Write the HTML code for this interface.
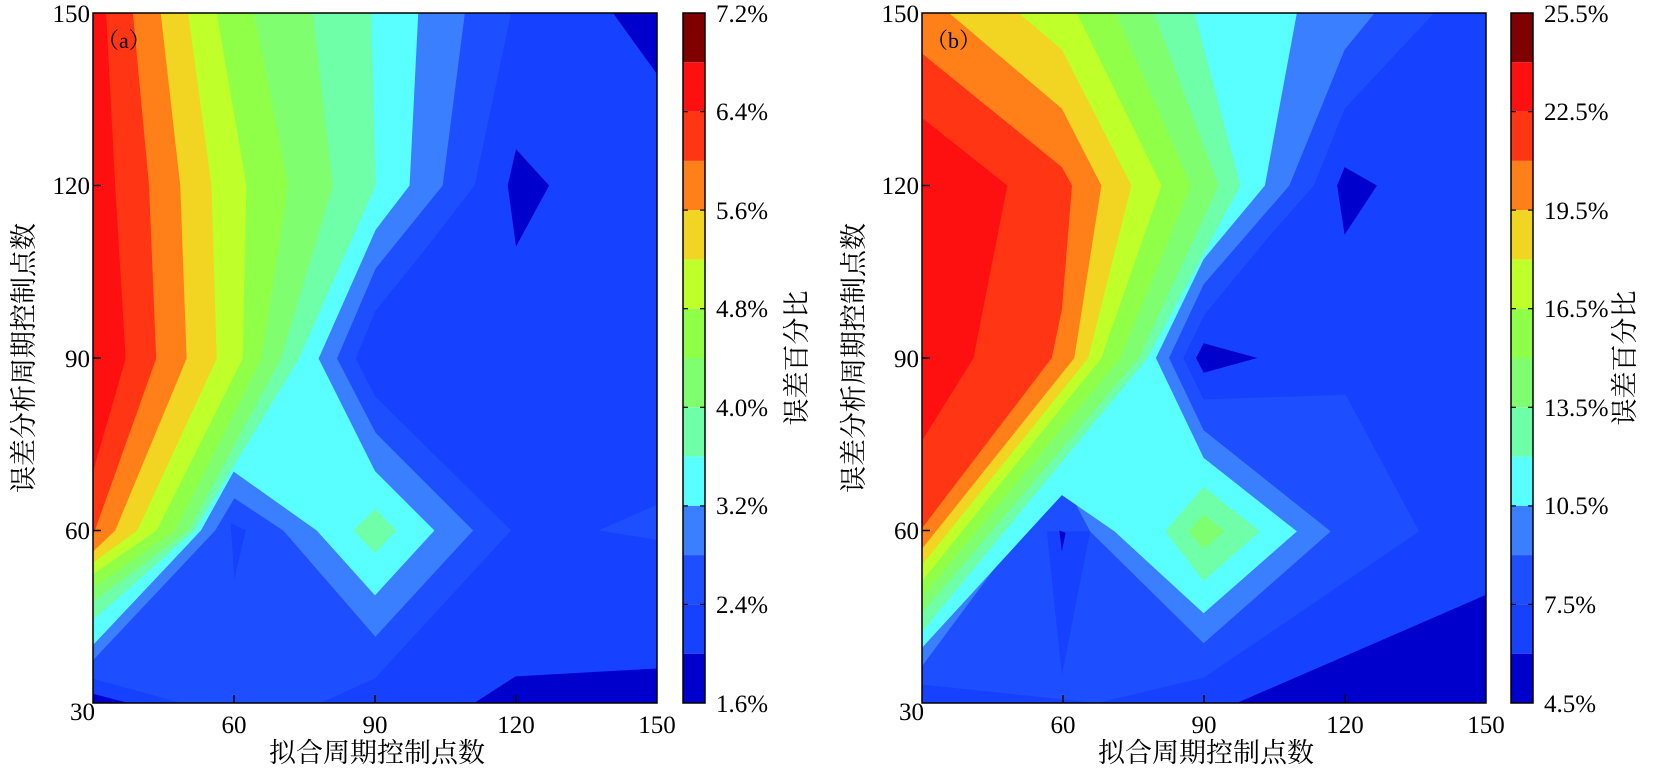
<!DOCTYPE html>
<html><head><meta charset="utf-8"><style>
html,body{margin:0;padding:0;background:#fff;}
svg{display:block;}
text{font-family:"Liberation Serif","Noto Serif CJK SC",serif;fill:#000;}
</style></head><body>
<svg width="1654" height="769" viewBox="0 0 1654 769" xmlns="http://www.w3.org/2000/svg">
<defs>
<clipPath id="cp"><rect x="0" y="0" width="1500" height="1500"/></clipPath>
</defs>
<!-- Panel A -->
<g transform="translate(93,13) scale(0.376,0.46)" clip-path="url(#cp)">
<rect x="0" y="0" width="1500" height="1500" fill="#1641ff"/>
<polygon fill="#1d4eff" points="0,0 1112,0 1015,375 889,508 750,649 699,751 750,833 1112,1125 749,1447 604,1500 234,1500 0,1447"/>
<polygon fill="#1d4eff" points="1344,1125 1500,1069 1500,1145"/>
<polygon fill="#0000cd" points="1383,0 1500,0 1500,133"/>
<polygon fill="#0000cd" points="1125,296 1213,375 1125,508 1103,375"/>
<polygon fill="#0000cd" points="1014,1500 1124,1442 1500,1425 1500,1500"/>
<polygon fill="#0000cd" points="0,1480 94,1500 0,1500"/>
<polygon fill="#3a7fff" points="0,0 989,0 930,375 752,555 649,751 752,913 1011,1125 751,1356 506,1125 376,1055 325,1125 0,1407"/>
<polygon fill="#1641ff" points="366,1109 406,1125 376,1231"/>
<polygon fill="#59ffff" points="0,0 865,0 842,375 752,471 600,751 750,996 908,1125 750,1266 595,1125 374,997 287,1125 0,1374"/>
<polygon fill="#6fffa8" points="693,1125 750,1078 807,1125 750,1174"/>
<polygon fill="#6fffa8" points="0,0 740,0 752,375 548,751 270,1125 0,1320"/>
<polygon fill="#7fff70" points="0,0 585,0 638,375 500,751 254,1125 0,1280"/>
<polygon fill="#90ff48" points="0,0 429,0 519,375 448,751 218,1125 0,1250"/>
<polygon fill="#bfff2a" points="0,0 329,0 408,375 398,751 169,1125 0,1220"/>
<polygon fill="#f2d422" points="0,0 253,0 315,375 329,751 118,1125 0,1195"/>
<polygon fill="#ff7f18" points="0,0 180,0 232,375 249,751 59,1125 0,1171"/>
<polygon fill="#ff3514" points="0,0 106,0 149,375 168,751 5,1125 0,1139"/>
<polygon fill="#ff1010" points="0,0 35,0 59,375 87,751 0,997"/>
</g>
<rect x="93" y="13" width="564" height="690" fill="none" stroke="#000" stroke-width="1.5"/>
<g stroke="#000" stroke-width="1.5">
<line x1="234" y1="703" x2="234" y2="695"/><line x1="375" y1="703" x2="375" y2="695"/><line x1="516" y1="703" x2="516" y2="695"/>
<line x1="93" y1="185.5" x2="101" y2="185.5"/><line x1="93" y1="358" x2="101" y2="358"/><line x1="93" y1="530.5" x2="101" y2="530.5"/>
</g>
<text x="97" y="48" font-size="22">（a）</text>
<g font-size="25" text-anchor="end">
<text x="90" y="22">150</text><text x="90" y="194">120</text><text x="90" y="367">90</text><text x="90" y="539">60</text><text x="95" y="720">30</text>
</g>
<g font-size="25" text-anchor="middle">
<text x="234" y="733">60</text><text x="375" y="733">90</text><text x="516" y="733">120</text><text x="657" y="733">150</text>
</g>
<text x="377" y="762" font-size="27" text-anchor="middle">拟合周期控制点数</text>
<text transform="translate(33,358) rotate(-90)" font-size="27" text-anchor="middle">误差分析周期控制点数</text>

<!-- Colorbar A -->
<g>
<rect x="683" y="13" width="22" height="49.3" fill="#800000"/>
<rect x="683" y="62.3" width="22" height="49.3" fill="#ff1010"/>
<rect x="683" y="111.6" width="22" height="49.3" fill="#ff3514"/>
<rect x="683" y="160.9" width="22" height="49.3" fill="#ff7f18"/>
<rect x="683" y="210.1" width="22" height="49.3" fill="#f2d422"/>
<rect x="683" y="259.4" width="22" height="49.3" fill="#bfff2a"/>
<rect x="683" y="308.7" width="22" height="49.3" fill="#90ff48"/>
<rect x="683" y="358" width="22" height="49.3" fill="#7fff70"/>
<rect x="683" y="407.3" width="22" height="49.3" fill="#6fffa8"/>
<rect x="683" y="456.6" width="22" height="49.3" fill="#59ffff"/>
<rect x="683" y="505.9" width="22" height="49.3" fill="#3a7fff"/>
<rect x="683" y="555.1" width="22" height="49.3" fill="#1d4eff"/>
<rect x="683" y="604.4" width="22" height="49.3" fill="#1641ff"/>
<rect x="683" y="653.7" width="22" height="49.3" fill="#0000cd"/>
<rect x="683" y="13" width="22" height="690" fill="none" stroke="#000" stroke-width="1.5"/>
<g stroke="#000" stroke-width="1.2">
<line x1="683" y1="111.6" x2="688" y2="111.6"/><line x1="700" y1="111.6" x2="705" y2="111.6"/>
<line x1="683" y1="210.1" x2="688" y2="210.1"/><line x1="700" y1="210.1" x2="705" y2="210.1"/>
<line x1="683" y1="308.7" x2="688" y2="308.7"/><line x1="700" y1="308.7" x2="705" y2="308.7"/>
<line x1="683" y1="407.3" x2="688" y2="407.3"/><line x1="700" y1="407.3" x2="705" y2="407.3"/>
<line x1="683" y1="505.9" x2="688" y2="505.9"/><line x1="700" y1="505.9" x2="705" y2="505.9"/>
<line x1="683" y1="604.4" x2="688" y2="604.4"/><line x1="700" y1="604.4" x2="705" y2="604.4"/>
</g>
<g font-size="25">
<text x="716" y="22">7.2%</text><text x="716" y="120">6.4%</text><text x="716" y="219">5.6%</text><text x="716" y="317">4.8%</text><text x="716" y="416">4.0%</text><text x="716" y="514">3.2%</text><text x="716" y="613">2.4%</text><text x="716" y="712">1.6%</text>
</g>
<text transform="translate(806,358) rotate(-90)" font-size="27" text-anchor="middle">误差百分比</text>
</g>

<!-- Panel B -->
<g transform="translate(922,13) scale(0.376,0.46)" clip-path="url(#cp)">
<rect x="0" y="0" width="1500" height="1500" fill="#1641ff"/>
<polygon fill="#1d4eff" points="0,0 1362,0 1124,208 1042,375 927,482 752,655 695,750 749,840 1127,830 1322,1127 867,1380 749,1445 467,1500 0,1460"/>
<polygon fill="#1641ff" points="332,1127 447,1127 372,1440"/>
<polygon fill="#0000cd" points="1124,335 1210,375 1124,482 1104,375"/>
<polygon fill="#0000cd" points="749,718 892,750 749,782 729,750"/>
<polygon fill="#0000cd" points="837,1500 1500,1265 1500,1500"/>
<polygon fill="#0000cd" points="365,1125 382,1130 372,1170"/>
<polygon fill="#3a7fff" points="0,0 1204,0 1124,80 977,375 749,590 657,750 749,907 1087,1127 749,1370 447,1127 372,1010 0,1420"/>
<polygon fill="#59ffff" points="0,0 997,0 912,375 749,535 622,750 749,967 997,1127 749,1305 512,1127 372,1048 0,1380"/>
<polygon fill="#6fffa8" points="647,1127 749,1030 899,1127 749,1235"/>
<polygon fill="#7fff70" points="709,1127 749,1090 805,1127 749,1165"/>
<polygon fill="#6fffa8" points="0,0 725,0 847,375 600,750 0,1345"/>
<polygon fill="#7fff70" points="0,0 617,0 789,375 577,750 0,1305"/>
<polygon fill="#90ff48" points="0,0 515,0 715,375 527,750 0,1270"/>
<polygon fill="#bfff2a" points="0,0 412,0 637,375 477,750 0,1235"/>
<polygon fill="#f2d422" points="0,0 257,0 372,80 557,375 442,750 0,1200"/>
<polygon fill="#ff7f18" points="0,0 72,0 372,208 477,375 405,750 0,1165"/>
<polygon fill="#ff3514" points="0,88 372,335 399,375 372,645 345,750 0,1120"/>
<polygon fill="#ff1010" points="0,228 227,375 137,750 0,930"/>
</g>
<rect x="922" y="13" width="564" height="690" fill="none" stroke="#000" stroke-width="1.5"/>
<g stroke="#000" stroke-width="1.5">
<line x1="1063" y1="703" x2="1063" y2="695"/><line x1="1204" y1="703" x2="1204" y2="695"/><line x1="1345" y1="703" x2="1345" y2="695"/>
<line x1="922" y1="185.5" x2="930" y2="185.5"/><line x1="922" y1="358" x2="930" y2="358"/><line x1="922" y1="530.5" x2="930" y2="530.5"/>
</g>
<text x="926" y="48" font-size="22">（b）</text>
<g font-size="25" text-anchor="end">
<text x="919" y="22">150</text><text x="919" y="194">120</text><text x="919" y="367">90</text><text x="919" y="539">60</text><text x="924" y="720">30</text>
</g>
<g font-size="25" text-anchor="middle">
<text x="1063" y="733">60</text><text x="1204" y="733">90</text><text x="1345" y="733">120</text><text x="1486" y="733">150</text>
</g>
<text x="1206" y="762" font-size="27" text-anchor="middle">拟合周期控制点数</text>
<text transform="translate(863,358) rotate(-90)" font-size="27" text-anchor="middle">误差分析周期控制点数</text>

<!-- Colorbar B -->
<g>
<rect x="1511" y="13" width="22" height="49.3" fill="#800000"/>
<rect x="1511" y="62.3" width="22" height="49.3" fill="#ff1010"/>
<rect x="1511" y="111.6" width="22" height="49.3" fill="#ff3514"/>
<rect x="1511" y="160.9" width="22" height="49.3" fill="#ff7f18"/>
<rect x="1511" y="210.1" width="22" height="49.3" fill="#f2d422"/>
<rect x="1511" y="259.4" width="22" height="49.3" fill="#bfff2a"/>
<rect x="1511" y="308.7" width="22" height="49.3" fill="#90ff48"/>
<rect x="1511" y="358" width="22" height="49.3" fill="#7fff70"/>
<rect x="1511" y="407.3" width="22" height="49.3" fill="#6fffa8"/>
<rect x="1511" y="456.6" width="22" height="49.3" fill="#59ffff"/>
<rect x="1511" y="505.9" width="22" height="49.3" fill="#3a7fff"/>
<rect x="1511" y="555.1" width="22" height="49.3" fill="#1d4eff"/>
<rect x="1511" y="604.4" width="22" height="49.3" fill="#1641ff"/>
<rect x="1511" y="653.7" width="22" height="49.3" fill="#0000cd"/>
<rect x="1511" y="13" width="22" height="690" fill="none" stroke="#000" stroke-width="1.5"/>
<g stroke="#000" stroke-width="1.2">
<line x1="1511" y1="111.6" x2="1516" y2="111.6"/><line x1="1528" y1="111.6" x2="1533" y2="111.6"/>
<line x1="1511" y1="210.1" x2="1516" y2="210.1"/><line x1="1528" y1="210.1" x2="1533" y2="210.1"/>
<line x1="1511" y1="308.7" x2="1516" y2="308.7"/><line x1="1528" y1="308.7" x2="1533" y2="308.7"/>
<line x1="1511" y1="407.3" x2="1516" y2="407.3"/><line x1="1528" y1="407.3" x2="1533" y2="407.3"/>
<line x1="1511" y1="505.9" x2="1516" y2="505.9"/><line x1="1528" y1="505.9" x2="1533" y2="505.9"/>
<line x1="1511" y1="604.4" x2="1516" y2="604.4"/><line x1="1528" y1="604.4" x2="1533" y2="604.4"/>
</g>
<g font-size="25">
<text x="1544" y="22">25.5%</text><text x="1544" y="120">22.5%</text><text x="1544" y="219">19.5%</text><text x="1544" y="317">16.5%</text><text x="1544" y="416">13.5%</text><text x="1544" y="514">10.5%</text><text x="1544" y="613">7.5%</text><text x="1544" y="712">4.5%</text>
</g>
<text transform="translate(1634,358) rotate(-90)" font-size="27" text-anchor="middle">误差百分比</text>
</g>
</svg>
</body></html>
